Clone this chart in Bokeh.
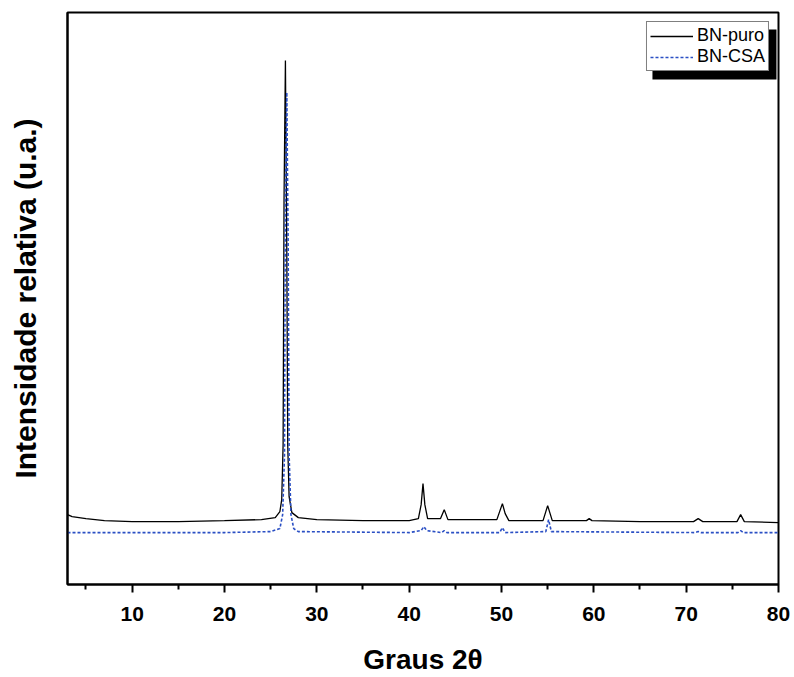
from bokeh.plotting import figure
from bokeh.embed import file_html
from bokeh.resources import INLINE
from bokeh.models import FixedTicker, Range1d, Legend, LegendItem, BoxAnnotation

# 2-theta (degrees) and relative intensity (a.u.)
x_puro = [3.0, 3.5, 5, 7, 10, 15, 20, 24, 25.5, 26.0, 26.2, 26.35, 26.45, 26.6, 26.75, 26.85, 27.0, 27.3, 28, 30, 35, 40,
          41.0, 41.3, 41.5, 41.7, 42.0, 43.4, 43.8, 44.2, 49.5, 49.8, 50.1, 50.4, 50.8,
          54.5, 54.8, 55.0, 55.2, 55.5, 59.2, 59.5, 59.8, 65, 70.8, 71.3, 71.8, 75.5, 75.9, 76.3, 80]
y_puro = [700, 680, 660, 640, 630, 630, 640, 650, 670, 730, 850, 1400, 3850, 5250, 3350, 1400, 880, 720, 670, 650, 640, 640,
          660, 800, 1010, 800, 660, 660, 750, 650, 650, 730, 810, 710, 640,
          640, 730, 790, 730, 640, 640, 660, 640, 630, 630, 660, 630, 630, 700, 630, 620]

x_csa = [3, 10, 20, 25, 26.0, 26.3, 26.5, 26.6, 26.75, 26.9, 27.0, 27.2, 27.5, 28, 40,
         41.3, 41.6, 41.9, 43.5, 43.8, 44.1, 49.8, 50.1, 50.4, 54.8, 55.1, 55.4,
         71.0, 71.3, 71.6, 75.6, 75.9, 76.2, 80]
y_csa = [520, 520, 520, 530, 560, 700, 1300, 3850, 4930, 3350, 1300, 700, 560, 530, 520,
         540, 580, 540, 520, 540, 520, 520, 570, 520, 530, 650, 530,
         520, 530, 520, 520, 540, 520, 520]

x_ticks = [10, 20, 30, 40, 50, 60, 70, 80]
x_minor = [5, 15, 25, 35, 45, 55, 65, 75]
series_labels = ["BN-puro", "BN-CSA"]

FONT = "Liberation Sans"

p = figure(width=794, height=677, output_backend="svg", toolbar_location=None,
           x_range=Range1d(3, 80), y_range=Range1d(0, 5730),
           min_border_left=67, min_border_right=16, min_border_top=12, min_border_bottom=92)

p.background_fill_color = "white"
p.border_fill_color = "white"
p.outline_line_color = "black"
p.outline_line_width = 2
p.xgrid.visible = False
p.ygrid.visible = False

r1 = p.line(x_puro, y_puro, line_color="black", line_width=1.3)
r2 = p.line(x_csa, y_csa, line_color="#2a4fc4", line_width=1.6, line_dash="3 2")

xa = p.xaxis[0]
xa.ticker = FixedTicker(ticks=x_ticks, minor_ticks=x_minor)
xa.axis_line_width = 2
xa.major_tick_line_width = 2
xa.minor_tick_line_width = 2
xa.major_tick_in = 0
xa.major_tick_out = 8
xa.minor_tick_in = 0
xa.minor_tick_out = 5
xa.major_label_text_font = FONT
xa.major_label_text_font_style = "bold"
xa.major_label_text_font_size = "21px"
xa.major_label_text_color = "black"
xa.major_label_standoff = 14
xa.axis_label = "Graus 2θ"
xa.axis_label_text_font = FONT
xa.axis_label_text_font_style = "bold"
xa.axis_label_text_font_size = "28px"
xa.axis_label_text_color = "black"
xa.axis_label_standoff = 20

ya = p.yaxis[0]
ya.axis_line_width = 2
ya.major_tick_line_color = None
ya.minor_tick_line_color = None
ya.major_label_text_font_size = "0px"
ya.major_label_text_color = None
ya.axis_label = "Intensidade relativa (u.a.)"
ya.axis_label_text_font = FONT
ya.axis_label_text_font_style = "bold"
ya.axis_label_text_font_size = "30px"
ya.axis_label_text_color = "black"
ya.axis_label_standoff = 20

# legend drop shadow (decoration)
shadow = BoxAnnotation(left=66.35, right=79.78, top=5560, bottom=5060,
                       fill_color="black", fill_alpha=1, line_color=None)
p.add_layout(shadow)

legend = Legend(items=[LegendItem(label=series_labels[0], renderers=[r1]),
                       LegendItem(label=series_labels[1], renderers=[r2])],
                location="top_right", margin=9, padding=3, spacing=0,
                label_text_font=FONT, label_text_font_size="18px", label_text_color="black",
                glyph_width=43, glyph_height=20, label_height=20, label_standoff=4,
                border_line_color="black", border_line_width=1,
                background_fill_color="white", background_fill_alpha=1)
p.add_layout(legend)

open("out.html", "w").write(file_html(p, INLINE))
